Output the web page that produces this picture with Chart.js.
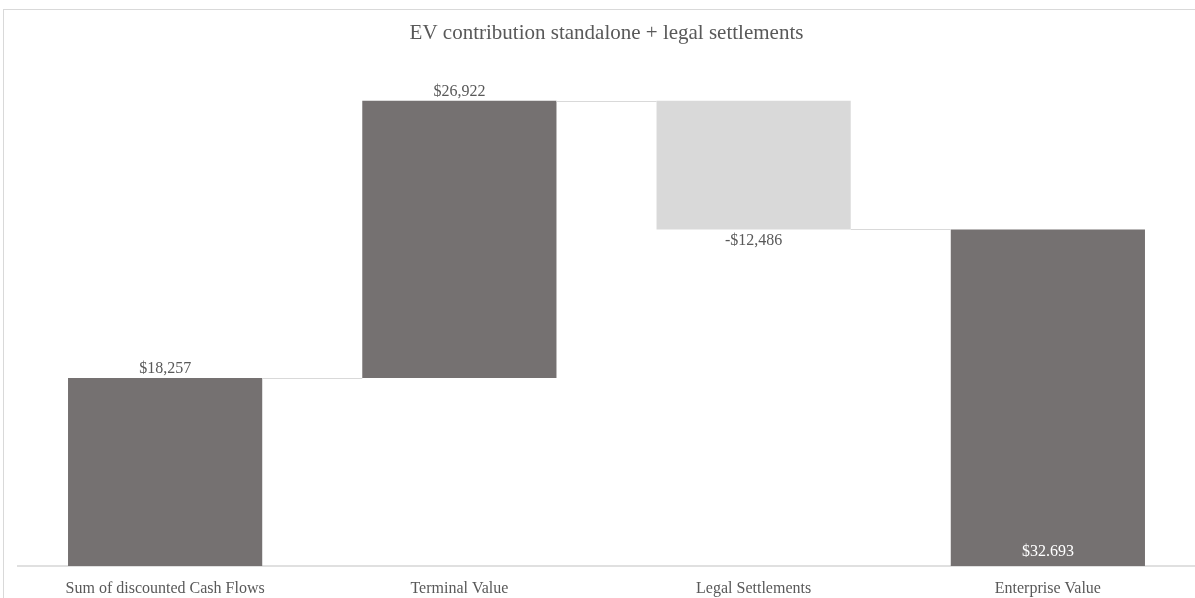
<!DOCTYPE html>
<html>
<head>
<meta charset="utf-8">
<script src="https://cdn.jsdelivr.net/npm/chart.js@4.4.1/dist/chart.umd.min.js"></script>
<style>
  html, body { margin: 0; padding: 0; background: #fff; }
  #frame { position: absolute; left: 3px; top: 9px; width: 1210px; height: 610px; border: 1px solid #d9d9d9; box-sizing: border-box; }
  #wrap { position: absolute; left: 0; top: 0; width: 1195px; height: 598px; }
</style>
</head>
<body>
<div id="frame"></div>
<div id="wrap"><canvas id="chart" width="1195" height="598"></canvas></div>
<script>
// ------------- Dados -------------
const categories = ['Sum of discounted Cash Flows', 'Terminal Value', 'Legal Settlements', 'Enterprise Value'];
const steps      = [18257, 26922, -12486];   // contribuições
const total      = 32693;                     // Enterprise Value
const valueLabels = ['$18,257', '$26,922', '-$12,486', '$32.693'];

const DARK  = '#757171';
const LIGHT = '#d9d9d9';
const TEXT  = '#595959';
const FONT  = "'Liberation Serif', 'Times New Roman', serif";

// barras flutuantes [inicio, fim]
const ranges = [];
let run = 0;
for (const s of steps) {
  const a = run, b = run + s;
  ranges.push([Math.min(a, b), Math.max(a, b)]);
  run = b;
}
ranges.push([0, total]);
const colors = steps.map(s => s < 0 ? LIGHT : DARK).concat([DARK]);

// ------------- Plugin: conectores + rótulos -------------
const waterfallExtras = {
  id: 'waterfallExtras',
  afterDatasetsDraw(chart) {
    const { ctx } = chart;
    const y = chart.scales.y;
    const bars = chart.getDatasetMeta(0).data;
    ctx.save();
    // conectores
    ctx.strokeStyle = LIGHT;
    ctx.lineWidth = 1;
    let level = 0;
    for (let i = 0; i < bars.length - 1; i++) {
      level = i < steps.length ? level + steps[i] : level;
      const py = Math.round(y.getPixelForValue(level)) + 0.5;
      ctx.beginPath();
      ctx.moveTo(bars[i].x + bars[i].width / 2, py);
      ctx.lineTo(bars[i + 1].x - bars[i + 1].width / 2, py);
      ctx.stroke();
    }
    // rótulos
    ctx.font = `16px ${FONT}`;
    ctx.textAlign = 'center';
    ctx.textBaseline = 'middle';
    bars.forEach((b, i) => {
      const [lo, hi] = ranges[i];
      if (i === bars.length - 1) {
        ctx.fillStyle = '#fff';
        ctx.fillText(valueLabels[i], b.x, y.getPixelForValue(lo) - 14);
      } else if (i < steps.length && steps[i] < 0) {
        ctx.fillStyle = TEXT;
        ctx.fillText(valueLabels[i], b.x, y.getPixelForValue(lo) + 11);
      } else {
        ctx.fillStyle = TEXT;
        ctx.fillText(valueLabels[i], b.x, y.getPixelForValue(hi) - 9);
      }
    });
    ctx.restore();
  }
};

new Chart(document.getElementById('chart'), {
  type: 'bar',
  data: {
    labels: categories,
    datasets: [{
      data: ranges,
      backgroundColor: colors,
      borderWidth: 0,
      categoryPercentage: 0.66,
      barPercentage: 1
    }]
  },
  options: {
    animation: false,
    responsive: false,
    layout: { padding: { left: 18, right: 0, top: 0, bottom: 0 } },
    plugins: {
      legend: { display: false },
      tooltip: { enabled: false },
      title: {
        display: true,
        text: 'EV contribution standalone + legal settlements',
        color: TEXT,
        font: { family: FONT, size: 21, weight: 'normal' },
        padding: { top: 21, bottom: 5 }
      }
    },
    scales: {
      x: {
        grid: { display: false, drawTicks: false },
        border: { display: true, color: '#e0e0e0', width: 2 },
        ticks: { color: TEXT, font: { family: FONT, size: 16 }, padding: 13, maxRotation: 0, autoSkip: false },
        afterFit: s => { s.height = 32; }
      },
      y: {
        display: false,
        min: 0,
        max: 50000
      }
    }
  },
  plugins: [waterfallExtras]
});
</script>
</body>
</html>
